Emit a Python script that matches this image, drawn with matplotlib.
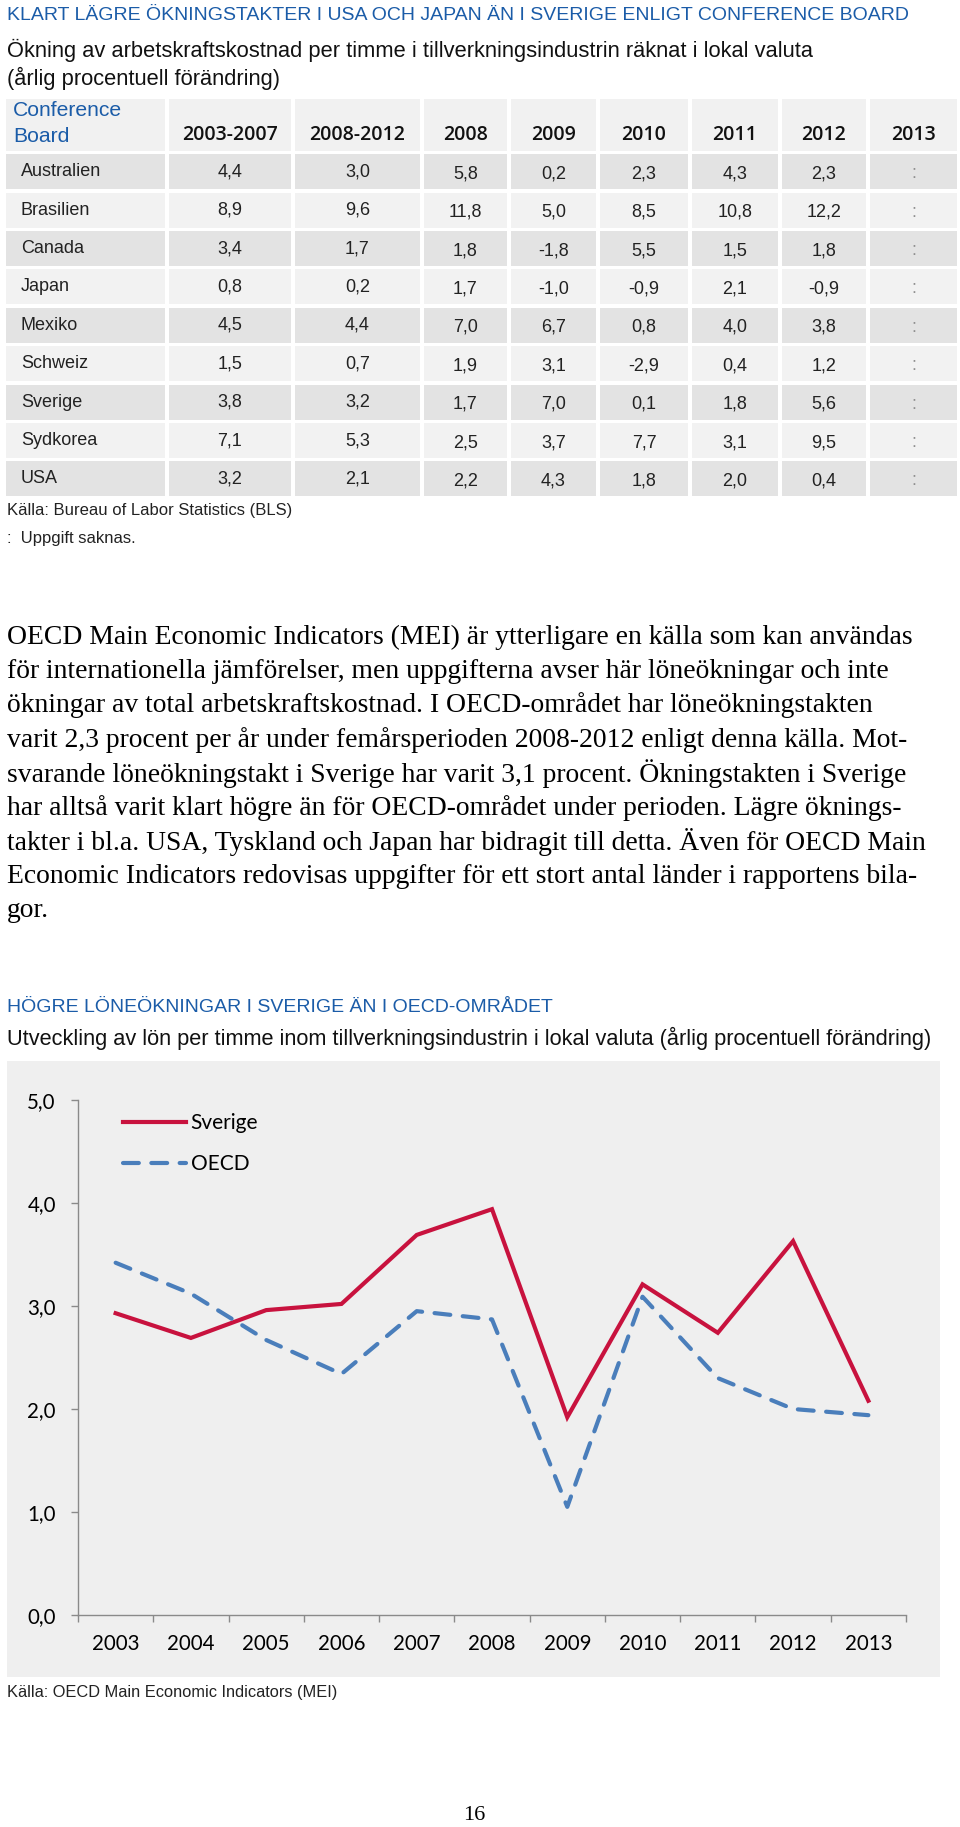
import numpy as np
import matplotlib
matplotlib.use("Agg")
import matplotlib.pyplot as plt
from matplotlib.patches import Rectangle

# ---- data: table (Conference Board) ----
countries = ["Australien", "Brasilien", "Canada", "Japan", "Mexiko",
             "Schweiz", "Sverige", "Sydkorea", "USA"]
col_labels = ["2003-2007", "2008-2012", "2008", "2009", "2010", "2011", "2012", "2013"]
avg_0307 = [4.4, 8.9, 3.4, 0.8, 4.5, 1.5, 3.8, 7.1, 3.2]
avg_0812 = [3.0, 9.6, 1.7, 0.2, 4.4, 0.7, 3.2, 5.3, 2.1]
y2008 = [5.8, 11.8, 1.8, 1.7, 7.0, 1.9, 1.7, 2.5, 2.2]
y2009 = [0.2, 5.0, -1.8, -1.0, 6.7, 3.1, 7.0, 3.7, 4.3]
y2010 = [2.3, 8.5, 5.5, -0.9, 0.8, -2.9, 0.1, 7.7, 1.8]
y2011 = [4.3, 10.8, 1.5, 2.1, 4.0, 0.4, 1.8, 3.1, 2.0]
y2012 = [2.3, 12.2, 1.8, -0.9, 3.8, 1.2, 5.6, 9.5, 0.4]
y2013 = [None] * 9

# ---- data: line chart (OECD MEI) ----
years = ["2003", "2004", "2005", "2006", "2007", "2008", "2009", "2010", "2011", "2012", "2013"]
sverige = [2.93, 2.69, 2.96, 3.02, 3.69, 3.94, 1.92, 3.21, 2.74, 3.63, 2.08]
oecd = [3.42, 3.12, 2.67, 2.34, 2.95, 2.87, 1.05, 3.09, 2.30, 2.00, 1.94]

para_lines = [
    "OECD Main Economic Indicators (MEI) är ytterligare en källa som kan användas",
    "för internationella jämförelser, men uppgifterna avser här löneökningar och inte",
    "ökningar av total arbetskraftskostnad. I OECD-området har löneökningstakten",
    "varit 2,3 procent per år under femårsperioden 2008-2012 enligt denna källa. Mot-",
    "svarande löneökningstakt i Sverige har varit 3,1 procent. Ökningstakten i Sverige",
    "har alltså varit klart högre än för OECD-området under perioden. Lägre öknings-",
    "takter i bl.a. USA, Tyskland och Japan har bidragit till detta. Även för OECD Main",
    "Economic Indicators redovisas uppgifter för ett stort antal länder i rapportens bila-",
    "gor.",
]

BLUE_TITLE = "#1b5ca8"
RED = "#c8123e"
BLUE_LINE = "#4a7ebb"
AX_GRAY = "#8a8a8a"
SANS = ["Liberation Sans", "DejaVu Sans"]
SERIF = ["Liberation Serif", "DejaVu Serif"]
CHART_FONT = ["Lato", "DejaVu Sans"]

W, H = 960, 1827
fig = plt.figure(figsize=(W / 100, H / 100), dpi=100)
page = fig.add_axes([0, 0, 1, 1])
page.set_xlim(0, W)
page.set_ylim(H, 0)
page.axis("off")
renderer = fig.canvas.get_renderer()


def fit_text(x, y, s, width, **kw):
    t = page.text(x, y, s, fontsize=10, **kw)
    w = t.get_window_extent(renderer).width
    t.set_fontsize(10 * width / w)
    return t


# ---- headings ----
fit_text(7, 16, "KLART LÄGRE ÖKNINGSTAKTER I USA OCH JAPAN ÄN I SVERIGE ENLIGT CONFERENCE BOARD",
         902, family=SANS, color=BLUE_TITLE, va="center")
t = fit_text(7, 50, "Ökning av arbetskraftskostnad per timme i tillverkningsindustrin räknat i lokal valuta",
             811, family=SANS, color="#111111", va="center")
page.text(7, 78, "(årlig procentuell förändring)", fontsize=t.get_fontsize(),
          family=SANS, color="#111111", va="center")

# ---- table ----
bounds = [4, 167, 293, 422, 509, 598, 690, 780, 868, 959]
header_top, header_bot = 97.5, 152.5
row_h = 38.4
gap = 1.6
columns = [avg_0307, avg_0812, y2008, y2009, y2010, y2011, y2012, y2013]

for c in range(len(bounds) - 1):
    page.add_patch(Rectangle((bounds[c] + gap, header_top + gap),
                             bounds[c + 1] - bounds[c] - 2 * gap, header_bot - header_top - 2 * gap,
                             facecolor="#f1f1f1", edgecolor="none"))
page.text(13, 111, "Conference", family=SANS, fontsize=15.2, color=BLUE_TITLE, va="center")
page.text(13, 137, "Board", family=SANS, fontsize=15.2, color=BLUE_TITLE, va="center")
for c, lab in enumerate(col_labels):
    cx = (bounds[c + 1] + bounds[c + 2]) / 2
    page.text(cx, 135, lab, family=["Open Sans", "DejaVu Sans"], fontweight="semibold",
              fontsize=14, ha="center", va="center", color="#111111")

for r, name in enumerate(countries):
    top = header_bot + r * row_h
    shade = "#e3e3e3" if r % 2 == 0 else "#f2f2f2"
    for c in range(len(bounds) - 1):
        page.add_patch(Rectangle((bounds[c] + gap, top + gap),
                                 bounds[c + 1] - bounds[c] - 2 * gap, row_h - 2 * gap,
                                 facecolor=shade, edgecolor="none"))
    cy = top + row_h / 2
    page.text(21, cy, name, family=SANS, fontsize=13, va="center", color="#222222")
    for c, col in enumerate(columns):
        cx = (bounds[c + 1] + bounds[c + 2]) / 2
        v = col[r]
        if v is None:
            page.text(cx, cy + 2, ":", family=SANS, fontsize=13, ha="center", va="center",
                      color="#909090")
        else:
            dy = 2 if c >= 2 else 0
            page.text(cx, cy + dy, f"{v:.1f}".replace(".", ","), family=SANS, fontsize=13,
                      ha="center", va="center", color="#222222")

t = fit_text(7, 511, "Källa: Bureau of Labor Statistics (BLS)", 284, family=SANS,
             color="#222222", va="center")
page.text(7, 538, ":  Uppgift saknas.", fontsize=t.get_fontsize(), family=SANS,
          color="#222222", va="center")

# ---- paragraph ----
first = fit_text(7, 637, para_lines[0], 908, family=SERIF, color="black", va="center")
for i, line in enumerate(para_lines[1:], start=1):
    page.text(7, 637 + i * 34.2, line, fontsize=first.get_fontsize(), family=SERIF,
              color="black", va="center")

# ---- chart headings ----
fit_text(7, 1007, "HÖGRE LÖNEÖKNINGAR I SVERIGE ÄN I OECD-OMRÅDET", 544, family=SANS,
         color=BLUE_TITLE, va="center")
fit_text(7, 1038, "Utveckling av lön per timme inom tillverkningsindustrin i lokal valuta (årlig procentuell förändring)",
         931, family=SANS, color="#111111", va="center")

page.add_patch(Rectangle((7, 1061), 933, 616, facecolor="#efefef", edgecolor="none"))

# ---- line chart ----
ax_l, ax_r, ax_t, ax_b = 78, 906, 1100, 1615
ax = fig.add_axes([ax_l / W, (H - ax_b) / H, (ax_r - ax_l) / W, (ax_b - ax_t) / H])
ax.set_facecolor("none")
ax.plot(years, sverige, color=RED, lw=3.0, solid_joinstyle="miter", label="Sverige")
ax.plot(years, oecd, color=BLUE_LINE, lw=3.0, linestyle=(0, (3.8, 3.0)),
        dash_capstyle="round", label="OECD")
ax.set_xlim(-0.5, len(years) - 0.5)
ax.set_ylim(0, 5)
ax.set_yticks(np.arange(0, 5.5, 1.0))
ax.set_yticklabels([f"{v:.1f}".replace(".", ",") for v in np.arange(0, 5.5, 1.0)])
ax.set_xticks(np.arange(-0.5, len(years), 1.0), minor=True)
ax.tick_params(axis="x", which="major", length=0, pad=14, labelsize=14.8, labelcolor="black")
ax.tick_params(axis="x", which="minor", length=5, width=1, color=AX_GRAY, direction="out")
ax.tick_params(axis="y", length=5, width=1, color=AX_GRAY, pad=11, labelsize=14.8,
               labelcolor="black")
for lab in ax.get_xticklabels() + ax.get_yticklabels():
    lab.set_family(CHART_FONT)
for side in ["top", "right"]:
    ax.spines[side].set_visible(False)
for side in ["left", "bottom"]:
    ax.spines[side].set_color(AX_GRAY)
    ax.spines[side].set_linewidth(1)

leg = ax.legend(loc="upper left", bbox_to_anchor=((123 - ax_l) / (ax_r - ax_l), 0.974),
                frameon=False, borderpad=0, borderaxespad=0, handlelength=3.0,
                handletextpad=0.25, labelspacing=1.0,
                prop={"family": CHART_FONT, "size": 15})

fit_text(7, 1693, "Källa: OECD Main Economic Indicators (MEI)", 330, family=SANS,
         color="#222222", va="center")
page.text(474, 1816, "16", family=SERIF, fontsize=16, ha="center", va="center", color="black")

fig.savefig("out.png", dpi=100)
